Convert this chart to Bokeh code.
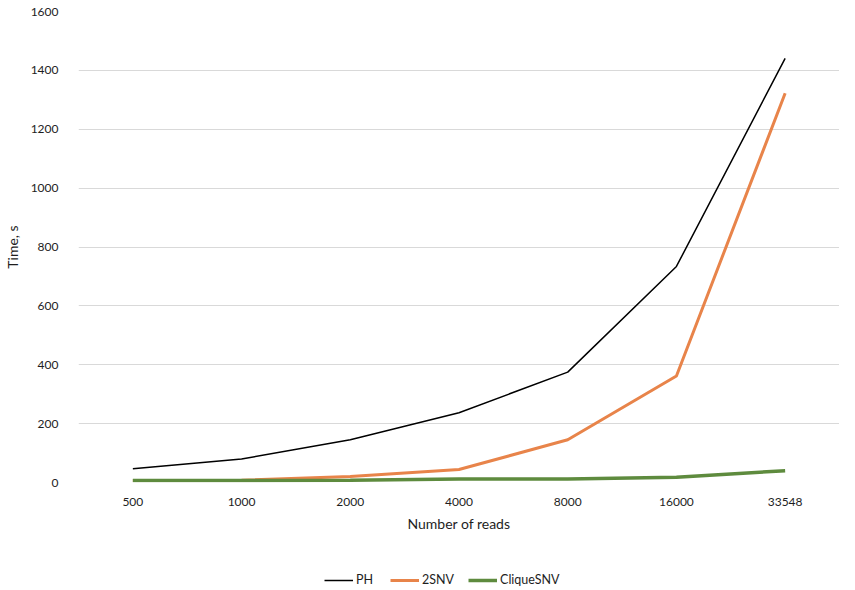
from bokeh.plotting import figure
from bokeh.layouts import column
from bokeh.models import Legend, LegendItem, FixedTicker, Range1d
from bokeh.embed import file_html
from bokeh.resources import INLINE

reads = ["500", "1000", "2000", "4000", "8000", "16000", "33548"]
ph = [47, 80, 145, 237, 375, 734, 1441]
snv2 = [7, 8, 20, 44, 145, 362, 1322]
clique = [7, 7, 8, 12, 12, 18, 40]
y_ticks = [0, 200, 400, 600, 800, 1000, 1200, 1400, 1600]
series_names = ["PH", "2SNV", "CliqueSNV"]
series_colors = ["#000000", "#E8844A", "#5E8B3E"]
series_widths = [1.5, 3, 3.5]

FONT = "Lato"
TXT = "#1e1e1e"

p = figure(x_range=reads, y_range=Range1d(0, 1600), width=839, height=534,
           output_backend="svg", toolbar_location=None,
           min_border_top=11, min_border_right=0, min_border_left=66,
           min_border_bottom=50)
p.outline_line_color = None

for vals, c, w in zip([ph, snv2, clique], series_colors, series_widths):
    p.line(reads, vals, line_color=c, line_width=w)

p.xgrid.grid_line_color = None
p.ygrid.grid_line_color = "#D9D9D9"
p.ygrid.grid_line_width = 1.2
p.yaxis.ticker = FixedTicker(ticks=y_ticks)

for ax in (p.xaxis, p.yaxis):
    ax.axis_line_color = None
    ax.major_tick_line_color = None
    ax.minor_tick_line_color = None
    ax.major_label_text_font = FONT
    ax.major_label_text_font_size = "12px"
    ax.major_label_text_color = TXT
    ax.axis_label_text_font = FONT
    ax.axis_label_text_font_size = "14px"
    ax.axis_label_text_font_style = "normal"
    ax.axis_label_text_color = TXT

p.xaxis.axis_label = "Number of reads"
p.yaxis.axis_label = "Time, s"
p.xaxis.major_label_standoff = 9
p.xaxis.axis_label_standoff = 6
p.yaxis.major_label_standoff = 14
p.yaxis.axis_label_standoff = 7

# legend strip below the chart (series drawn off-range; only legend shows)
lg = figure(width=839, height=54, output_backend="svg", toolbar_location=None,
            min_border=0, x_range=reads, y_range=Range1d(-20, -10),
            x_axis_type=None, y_axis_type=None)
lg.outline_line_color = None
lg.grid.grid_line_color = None
items = []
for name, vals, c, w in zip(series_names, [ph, snv2, clique], series_colors, series_widths):
    r = lg.line(reads, vals, line_color=c, line_width=w)
    items.append(LegendItem(label=name, renderers=[r]))
legend = Legend(items=items, orientation="horizontal", location=(246, 1),
                glyph_width=29, label_standoff=3, spacing=14,
                label_text_font=FONT, label_text_font_size="12.5px",
                label_text_color=TXT, border_line_color=None,
                background_fill_alpha=0, padding=0, margin=0,
                label_height=14, glyph_height=14)
lg.add_layout(legend)

open("out.html", "w").write(file_html(column(p, lg, spacing=0), INLINE))
